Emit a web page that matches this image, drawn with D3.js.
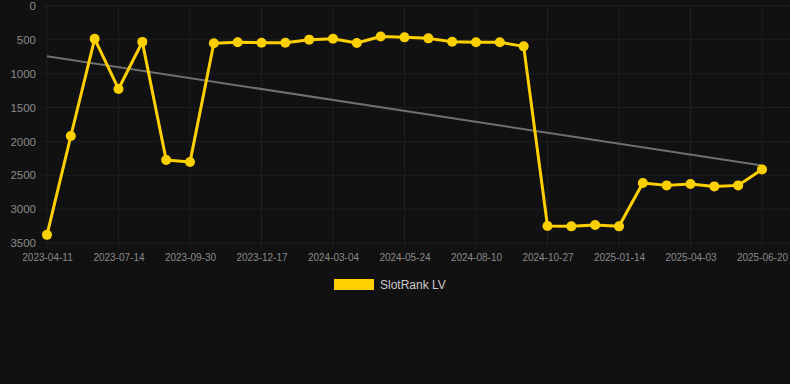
<!DOCTYPE html>
<html><head><meta charset="utf-8">
<script src="https://cdn.jsdelivr.net/npm/d3@7"></script>
<style>
html,body{margin:0;padding:0;background:#111111;}
svg{display:block;font-family:Arial,"Liberation Sans",Helvetica,sans-serif;}
</style></head>
<body><svg id="c" width="790" height="384"></svg>
<script>
const dates = ["2023-04-11","2023-05-12","2023-06-13","2023-07-14","2023-08-09","2023-09-04","2023-09-30","2023-10-26","2023-11-21","2023-12-17","2024-01-12","2024-02-07","2024-03-04","2024-03-31","2024-04-27","2024-05-24","2024-06-19","2024-07-15","2024-08-10","2024-09-05","2024-10-01","2024-10-27","2024-11-22","2024-12-19","2025-01-14","2025-02-09","2025-03-08","2025-04-03","2025-04-29","2025-05-25","2025-06-20"];
const ranks = [3380,1920,485,1225,530,2275,2305,550,536,542,542,497,483,547,450,463,478,527,536,536,596,3250,3254,3235,3254,2614,2649,2629,2664,2649,2413];
const yTicks = [0,500,1000,1500,2000,2500,3000,3500];
const seriesName = "SlotRank LV";

const svg = d3.select("#c");
const x = d3.scalePoint().domain(dates).range([47,762]);
const y = d3.scaleLinear().domain([0,3500]).range([6,243]);
const gridColor = "#1f1f1f";

// horizontal grid
svg.append("g").selectAll("line").data(yTicks).join("line")
  .attr("x1",42).attr("x2",790).attr("y1",d=>y(d)).attr("y2",d=>y(d))
  .attr("stroke",gridColor).attr("stroke-width",1);
// vertical grid
const tickDates = dates.filter((d,i)=>i%3===0);
svg.append("g").selectAll("line").data(tickDates).join("line")
  .attr("x1",d=>x(d)).attr("x2",d=>x(d)).attr("y1",6).attr("y2",248)
  .attr("stroke",gridColor).attr("stroke-width",1);

// y axis labels
const yAxis = d3.axisLeft(y).tickValues(yTicks).tickFormat(d3.format("d")).tickSize(0).tickPadding(0);
const gy = svg.append("g").attr("transform","translate(36,0)").call(yAxis);
gy.select(".domain").remove();
gy.selectAll("text").attr("fill","#8a8a8a").attr("font-size","11.5px").attr("font-family","Arial,'Liberation Sans',sans-serif");

// x axis labels
const xAxis = d3.axisBottom(x).tickValues(tickDates).tickSize(0).tickPadding(0);
const gx = svg.append("g").attr("transform","translate(0,254)").call(xAxis);
gx.select(".domain").remove();
gx.selectAll("text").attr("fill","#8a8a8a").attr("font-size","10px").attr("font-family","Arial,'Liberation Sans',sans-serif");

// trend line (linear regression)
const n = ranks.length;
const xs = d3.range(n);
const mx = d3.mean(xs), my = d3.mean(ranks);
const slope = d3.sum(xs,(v,i)=>(v-mx)*(ranks[i]-my))/d3.sum(xs,v=>(v-mx)*(v-mx));
const icpt = my - slope*mx;
svg.append("line")
  .attr("x1",x(dates[0])).attr("y1",y(icpt))
  .attr("x2",x(dates[n-1])).attr("y2",y(icpt+slope*(n-1)))
  .attr("stroke","#6f6f6f").attr("stroke-width",2);

// series line
const line = d3.line().x((d,i)=>x(dates[i])).y(d=>y(d));
svg.append("path").datum(ranks).attr("d",line)
  .attr("fill","none").attr("stroke","#FFD000").attr("stroke-width",3).attr("stroke-linejoin","round");
svg.append("g").selectAll("circle").data(ranks).join("circle")
  .attr("cx",(d,i)=>x(dates[i])).attr("cy",d=>y(d)).attr("r",5)
  .attr("fill","#FFD000");

// legend
svg.append("rect").attr("x",334).attr("y",279).attr("width",40).attr("height",11).attr("fill","#FFD000");
svg.append("text").attr("x",380).attr("y",289).attr("fill","#cccccc").attr("font-size","12px").text(seriesName);
</script></body></html>
